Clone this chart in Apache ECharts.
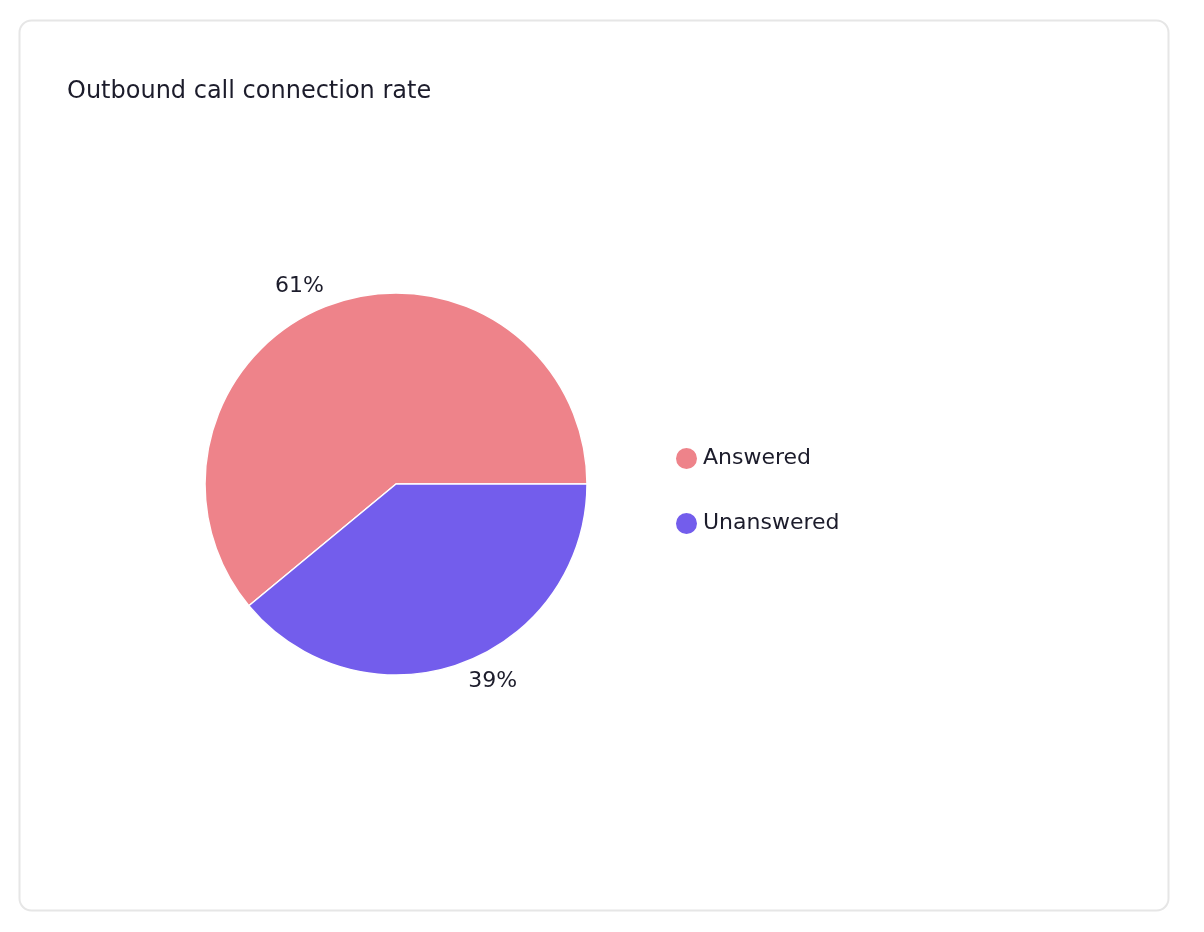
<!DOCTYPE html>
<html>
<head>
<meta charset="utf-8">
<script src="https://cdn.jsdelivr.net/npm/echarts@6/dist/echarts.min.js"></script>
<style>
html,body{margin:0;padding:0;background:#fff;}
#chart{width:1204px;height:932px;}
</style>
</head>
<body>
<div id="chart"></div>
<script>
const titleText = 'Outbound call connection rate';
const categories = ['Answered', 'Unanswered'];
const values = [61, 39];
const colors = ['#EE838A', '#735DEC'];

const FONT = 'DejaVu Sans';
const TEXT_COLOR = '#1C1C2B';

const chart = echarts.init(document.getElementById('chart'));
chart.setOption({
  animation: false,
  color: colors,
  graphic: [{
    type: 'rect',
    z: -10,
    shape: { x: 19.5, y: 20.5, width: 1149, height: 890, r: 12 },
    style: { fill: '#fff', stroke: '#E6E6E6', lineWidth: 2 }
  }],
  title: {
    text: titleText,
    left: 67,
    top: 80,
    padding: 0,
    textStyle: { fontFamily: FONT, fontSize: 24, fontWeight: 'normal', color: TEXT_COLOR }
  },
  legend: {
    orient: 'vertical',
    left: 674,
    top: 446,
    padding: 0,
    itemWidth: 23,
    itemHeight: 23,
    itemGap: 40,
    icon: 'circle',
    data: categories,
    textStyle: { fontFamily: FONT, fontSize: 22, color: TEXT_COLOR }
  },
  series: [{
    type: 'pie',
    center: [396, 484],
    radius: 191,
    startAngle: 0,
    clockwise: false,
    avoidLabelOverlap: false,
    itemStyle: { borderColor: '#fff', borderWidth: 1.5 },
    label: {
      show: true,
      position: 'outside',
      formatter: '{c}%',
      fontFamily: FONT,
      fontSize: 22,
      color: TEXT_COLOR,
      distanceToLabelLine: 1
    },
    labelLine: { show: false, length: 19, length2: 0 },
    emphasis: { disabled: true },
    data: categories.map((c, i) => ({ name: c, value: values[i] }))
  }]
});
</script>
</body>
</html>
